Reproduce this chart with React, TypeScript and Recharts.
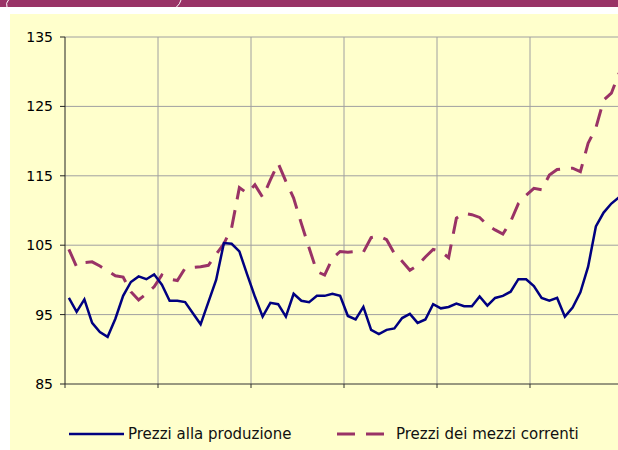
import { LineChart, Line, XAxis, YAxis, CartesianGrid } from 'recharts';

// monthly index values, 6 years shown (12 months between vertical gridlines)
const produzione = [
  97.4, 95.4, 97.2, 93.8, 92.5, 91.8, 94.4, 97.7, 99.7, 100.5, 100.1, 100.8,
  99.3, 97.0, 97.0, 96.8, 95.2, 93.6, 96.8, 100.0, 105.3, 105.2, 104.1, 100.8,
  97.6, 94.7, 96.7, 96.5, 94.7, 98.0, 97.0, 96.8, 97.7, 97.7, 98.0, 97.7,
  94.8, 94.3, 96.1, 92.8, 92.2, 92.8, 93.0, 94.5, 95.1, 93.8, 94.3, 96.5,
  95.9, 96.1, 96.6, 96.2, 96.2, 97.6, 96.3, 97.4, 97.7, 98.3, 100.1, 100.1,
  99.1, 97.4, 97.0, 97.4, 94.7, 96.0, 98.2, 101.9, 107.7, 109.7, 111.0, 111.9,
];

const mezziCorrenti = [
  104.4, 101.9, 102.5, 102.6, 102.0, 101.3, 100.6, 100.4, 98.3, 97.1, 98.0, 99.0,
  100.7, 100.1, 99.9, 101.7, 101.8, 101.9, 102.1, 103.7, 105.2, 107.5, 113.3, 112.5,
  113.7, 111.9, 114.4, 116.8, 114.2, 111.8, 108.1, 104.6, 101.2, 100.7, 103.1, 104.1,
  104.0, 104.1, 104.0, 106.1, 106.3, 105.8, 103.8, 102.7, 101.4, 102.1, 103.3, 104.4,
  104.1, 103.2, 108.9, 109.6, 109.4, 109.0, 107.9, 107.2, 106.6, 108.4, 111.0, 112.2,
  113.2, 113.0, 115.1, 115.9, 116.0, 116.1, 115.6, 119.7, 121.9, 125.9, 126.9, 129.8,
];

const yTicks = [85, 95, 105, 115, 125, 135];
const xTicks = [0, 12, 24, 36, 48, 60, 72];

const data = produzione.map((p, i) => ({
  x: i + 0.5,
  produzione: p,
  mezzi: mezziCorrenti[i],
}));

const font = '"DejaVu Sans", Verdana, sans-serif';

export default function App() {
  return (
    <div
      style={{
        position: 'absolute',
        left: 0,
        top: 0,
        width: 618,
        height: 450,
        overflow: 'hidden',
        background: '#ffffff',
        fontFamily: font,
      }}
    >
      <div style={{ position: 'absolute', left: 0, top: 0, width: 618, height: 7, background: '#993366' }} />
      <svg style={{ position: 'absolute', left: 0, top: 0 }} width={618} height={8}>
        <path d="M8.5 0 Q5.5 3 7 7" stroke="#fff" strokeWidth={1} fill="none" />
        <path d="M181 0 Q180 4 176.5 7" stroke="#fff" strokeWidth={1} fill="none" />
      </svg>
      <div style={{ position: 'absolute', left: 10, top: 14, width: 608, height: 436, background: '#ffffcc' }} />

      <div style={{ position: 'absolute', left: 0, top: 0 }}>
        <LineChart width={640} height={450} data={data} margin={{ top: 37, right: 17, left: 0, bottom: 46 }}>
          <CartesianGrid
            stroke="#a0a0a0"
            horizontalValues={[95, 105, 115, 125, 135]}
            verticalValues={[12, 24, 36, 48, 60]}
          />
          <XAxis
            dataKey="x"
            type="number"
            domain={[0, 72]}
            ticks={xTicks}
            tickFormatter={() => ''}
            tickSize={4}
            height={20}
            axisLine={{ stroke: '#333' }}
            tickLine={{ stroke: '#333' }}
          />
          <YAxis
            domain={[85, 135]}
            ticks={yTicks}
            width={65}
            tickSize={5}
            tickMargin={7}
            interval={0}
            axisLine={{ stroke: '#222' }}
            tickLine={{ stroke: '#222' }}
            tick={{ fill: '#000', fontSize: 14, fontFamily: font }}
          />
          <Line
            type="linear"
            dataKey="mezzi"
            stroke="#993366"
            strokeWidth={3}
            strokeDasharray="18 11"
            dot={false}
            isAnimationActive={false}
          />
          <Line
            type="linear"
            dataKey="produzione"
            stroke="#000080"
            strokeWidth={2.5}
            dot={false}
            isAnimationActive={false}
          />
        </LineChart>
      </div>

      <div style={{ position: 'absolute', left: 69, top: 423, height: 22, display: 'flex', alignItems: 'center' }}>
        <svg width={55} height={6}>
          <line x1={0} y1={3} x2={55} y2={3} stroke="#000080" strokeWidth={2.5} />
        </svg>
        <span style={{ marginLeft: 4, fontSize: 15, color: '#111', whiteSpace: 'nowrap' }}>Prezzi alla produzione</span>
      </div>
      <div style={{ position: 'absolute', left: 337, top: 423, height: 22, display: 'flex', alignItems: 'center' }}>
        <svg width={48} height={6}>
          <line x1={0} y1={3} x2={48} y2={3} stroke="#993366" strokeWidth={3} strokeDasharray="18 11" />
        </svg>
        <span style={{ marginLeft: 11, fontSize: 15, color: '#111', whiteSpace: 'nowrap' }}>Prezzi dei mezzi correnti</span>
      </div>
    </div>
  );
}
